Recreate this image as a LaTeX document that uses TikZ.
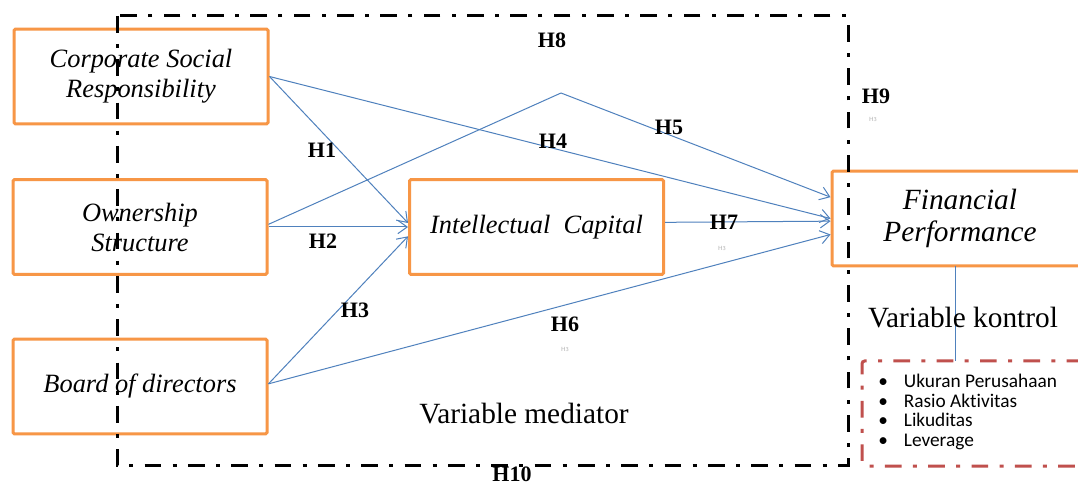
\documentclass[tikz,border=0pt]{standalone}
\usepackage{fontspec}
\setmainfont{Liberation Serif}
\newfontfamily\calib[Ligatures=NoCommon]{Carlito}
\usetikzlibrary{arrows.meta}
\definecolor{orng}{HTML}{F79646}
\definecolor{blu}{HTML}{4F81BD}
\definecolor{redd}{HTML}{C0504D}
\tikzset{
  varbox/.style={draw=orng, line width=2.25pt, rounded corners=1pt, inner sep=0pt,
    minimum width=190.5pt, minimum height=71pt, align=center,
    font=\fontsize{19.8}{22.5}\selectfont\itshape},
  conn/.style={draw=blu, line width=0.75pt, -{Straight Barb[length=7pt,width=10pt]}},
  plain/.style={draw=blu, line width=0.75pt},
  hlab/.style={font=\fontsize{16.5}{18}\selectfont\bfseries, inner sep=0pt},
  ghost/.style={font=\fontsize{4.5}{5}\selectfont\sffamily, text=black!30, inner sep=0pt},
  bigtxt/.style={font=\fontsize{22}{24}\selectfont, inner sep=0pt},
  dashdot/.style={line width=2.25pt, dash pattern=on 12.5pt off 8.5pt on 3pt off 8.5pt},
}
\begin{document}
\begin{tikzpicture}[x=0.75pt,y=-0.75pt]
\clip (0,0) rectangle (1078,484);
\fill[white] (0,0) rectangle (1078,484);
% boxes
\node[varbox] (csr) at (141,76.5) {Corporate Social\\Responsibility};
\node[varbox] (os) at (140,227) {Ownership\\Structure};
\node[varbox] (bd) at (140,386.5) {Board of directors};
\node[varbox] (ic) at (536.5,227) {Intellectual~~Capital};
\node[varbox, minimum width=192pt, font=\fontsize{22}{24}\selectfont\itshape] (fp) at (960,218.5) {Financial\\Performance};
% dash-dot frame
\draw[dashdot, black] (117,16) rectangle (848,465);
% control box
\node[draw=redd, dashdot, rounded corners=2pt, inner sep=0pt, minimum width=168pt, minimum height=78.75pt] (ctrl) at (974,413.5) {};
\node[anchor=north west, inner sep=0pt, font=\calib\fontsize{14.5}{14.6}\selectfont, align=left] (list) at (878,374)
  {\begin{tabular}{@{}l@{\hspace{12pt}}l@{}}
   \textbullet & Ukuran Perusahaan\\
   \textbullet & Rasio Aktivitas\\
   \textbullet & Likuditas\\
   \textbullet & Leverage
   \end{tabular}};
\coordinate (fpb) at (955,266);
\coordinate (ctt) at (955,361);
\draw[plain] (fpb) -- (ctt);
% connectors
\coordinate (peak) at (561,93);
\draw[conn] (csr.east) -- ([yshift=3pt]ic.west);
\draw[conn] (csr.east) -- (fp.west);
\draw[conn] (os.east) -- (ic.west);
\draw[plain] ([yshift=2pt]os.east) -- (peak);
\draw[conn] (peak) -- ([yshift=16pt]fp.west);
\draw[conn] ([yshift=2pt]bd.east) -- ([yshift=-7pt]ic.west);
\draw[conn] ([yshift=2pt]bd.east) -- ([yshift=-12pt]fp.west);
\draw[conn] ([yshift=3.5pt]ic.east) -- ([yshift=-2pt]fp.west);
% labels
\node[hlab] (h1) at (322,150) {H1};
\node[hlab] (h2) at (323,241) {H2};
\node[hlab] (h3) at (355,310) {H3};
\node[hlab] (h4) at (553,141) {H4};
\node[hlab] (h5) at (669,127) {H5};
\node[hlab] (h6) at (565,324) {H6};
\node[hlab] (h7) at (724,222) {H7};
\node[hlab] (h8) at (552,40) {H8};
\node[hlab] (h9) at (876,96) {H9};
\node[hlab] (h10) at (512,474) {H10};
\node[ghost] (g1) at (873,119) {H3};
\node[ghost] (g2) at (722,248) {H3};
\node[ghost] (g3) at (565,349) {H3};
\node[bigtxt] (vm) at (524,414) {Variable mediator};
\node[bigtxt] (vk) at (963,318) {Variable kontrol};
\end{tikzpicture}
\end{document}
